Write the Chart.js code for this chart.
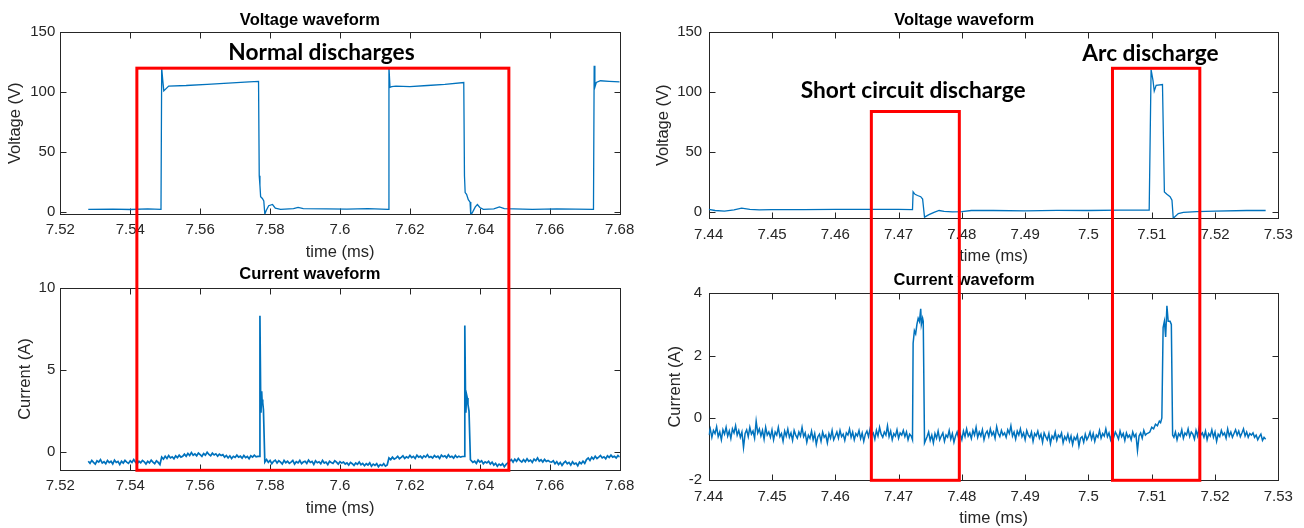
<!DOCTYPE html>
<html>
<head>
<meta charset="utf-8">
<script src="https://cdn.jsdelivr.net/npm/chart.js@4.4.1/dist/chart.umd.min.js"></script>
<style>
  body { margin: 0; background: #fff; }
  .panel { position: absolute; }
  #overlay { position: absolute; left: 0; top: 0; pointer-events: none; }
</style>
</head>
<body>
<canvas id="lt" class="panel" width="650" height="266" style="left:0;top:0"></canvas>
<canvas id="lb" class="panel" width="650" height="266" style="left:0;top:262px"></canvas>
<canvas id="rt" class="panel" width="654" height="266" style="left:650px;top:0"></canvas>
<canvas id="rb" class="panel" width="654" height="266" style="left:650px;top:262px"></canvas>
<canvas id="overlay" width="1304" height="528"></canvas>
<script>
// axis ticks
const leftTimeTicks = [7.52, 7.54, 7.56, 7.58, 7.60, 7.62, 7.64, 7.66, 7.68];
const rightTimeTicks = [7.44, 7.45, 7.46, 7.47, 7.48, 7.49, 7.50, 7.51, 7.52, 7.53];
const voltTicks = [0, 50, 100, 150];
const leftCurTicks = [0, 5, 10];
const rightCurTicks = [-2, 0, 2, 4];

// left voltage trace (ms, V)
const leftVoltT = [
  7.528, 7.535, 7.540, 7.545, 7.5488, 7.5490, 7.5493, 7.5496, 7.5510, 7.5560,
  7.5620, 7.5680, 7.5740, 7.5767, 7.5769, 7.5771, 7.5773, 7.5778, 7.5782, 7.5785,
  7.5789, 7.5796, 7.5807, 7.5815, 7.5830, 7.5867, 7.5880, 7.5895, 7.5960, 7.6020,
  7.6080, 7.6138, 7.6140, 7.6143, 7.6148, 7.6160, 7.6200, 7.6250, 7.6300, 7.6354,
  7.6356, 7.6358, 7.6362, 7.6367, 7.6372, 7.6374, 7.6380, 7.6387, 7.6393, 7.6400,
  7.6410, 7.6440, 7.6456, 7.6470, 7.6550, 7.6620, 7.6725, 7.6727, 7.6729, 7.6733,
  7.6745, 7.6770, 7.6800
];
const leftVolt = [
  2, 2.2, 1.8, 2.3, 2, 120, 110, 101, 105, 105.5,
  106.5, 107.5, 108.5, 109, 30, 22, 12.5, 11, 9, -2,
  1, 5, 6, 3, 2, 2.5, 3.5, 2.6, 2.4, 2.2,
  2.5, 2, 121, 104, 104.5, 105, 104.5, 105.5, 106.5, 108,
  30, 16, 14.5, 10, 8, -3, 0, 4, 6, 3.5,
  2, 2.4, 4, 2.6, 2, 2.3, 2, 122, 104, 108,
  109.5, 109, 108.5
];

// left current: sampled stretches (0.5 us step) plus the two discharge spikes
const leftCurStep = 0.0005;
const leftCurStarts = [7.528, 7.579, 7.6375];
const leftCurA = [
  -0.55, -0.68, -0.5, -0.62, -0.72, -0.52, -0.6, -0.45, -0.66, -0.58,
  -0.7, -0.5, -0.63, -0.55, -0.72, -0.48, -0.62, -0.56, -0.75, -0.55,
  -0.66, -0.5, -0.6, -0.68, -0.52, -0.62, -0.45, -0.6, -0.7, -0.55,
  -0.64, -0.5, -0.58, -0.72, -0.55, -0.65, -0.48, -0.6, -0.7, -0.52,
  -0.62, -0.75,
  -0.3, -0.42, -0.25, -0.38, -0.2, -0.35, -0.28, -0.4, -0.22, -0.33, -0.18, -0.3, -0.25,
  -0.12, -0.25, -0.08, -0.2, -0.02, -0.18, -0.1, -0.22, -0.05, -0.15, -0.25, -0.08,
  -0.18, 0.0, -0.14, -0.22, -0.06, -0.17, -0.1, -0.24, -0.12, -0.2,
  -0.15, -0.3, -0.2, -0.35, -0.22, -0.38, -0.25, -0.32, -0.18, -0.3,
  -0.24, -0.36, -0.2, -0.33, -0.26, -0.4, -0.22, -0.3, -0.18, -0.28, -0.25
];
const leftCurB = [
  -0.45, -0.62, -0.5, -0.7, -0.55, -0.48, -0.66, -0.52, -0.6, -0.72,
  -0.5, -0.64, -0.55, -0.68, -0.6, -0.5, -0.72, -0.58, -0.65, -0.5,
  -0.7, -0.6, -0.55, -0.68, -0.48, -0.62, -0.56, -0.74, -0.52, -0.64,
  -0.58, -0.7, -0.5, -0.66, -0.6, -0.75, -0.55, -0.62, -0.68, -0.52,
  -0.6, -0.72, -0.58, -0.66,
  -0.6, -0.72, -0.65, -0.78, -0.62, -0.7, -0.8, -0.66, -0.74, -0.6,
  -0.76, -0.68, -0.82, -0.7, -0.78, -0.65, -0.85, -0.72, -0.8, -0.7,
  -0.88, -0.75, -0.82, -0.7, -0.85, -0.78,
  -0.35, -0.45, -0.3, -0.42, -0.36, -0.25, -0.4, -0.32, -0.22, -0.38,
  -0.28, -0.35, -0.2, -0.33, -0.25, -0.38, -0.18, -0.3, -0.24, -0.36,
  -0.22, -0.3, -0.15, -0.32, -0.26, -0.35, -0.2, -0.3, -0.24, -0.38,
  -0.18, -0.28, -0.22, -0.34, -0.16, -0.3, -0.25, -0.36, -0.2, -0.32,
  -0.24, -0.3, -0.26
];
const leftCurC = [
  -0.5, -0.62, -0.55, -0.68, -0.48, -0.6, -0.52, -0.7, -0.58, -0.65, -0.55, -0.72, -0.6,
  -0.78, -0.68, -0.85, -0.72, -0.8, -0.7, -0.88, -0.74, -0.65,
  -0.55, -0.45, -0.6, -0.42, -0.55, -0.38, -0.52, -0.6, -0.45, -0.58,
  -0.4, -0.55, -0.48, -0.62, -0.42, -0.52, -0.35, -0.55, -0.46, -0.6, -0.44, -0.56, -0.5, -0.58,
  -0.6, -0.52, -0.7, -0.58, -0.75, -0.62, -0.8, -0.65, -0.55, -0.7,
  -0.62, -0.78, -0.58, -0.72, -0.66, -0.82, -0.6, -0.7, -0.55, -0.68,
  -0.45, -0.35, -0.5, -0.3, -0.42, -0.25, -0.38, -0.3, -0.2, -0.35,
  -0.28, -0.4, -0.22, -0.32, -0.18, -0.3, -0.25, -0.35, -0.2, -0.3
];
const leftSpike1T = [7.5769, 7.5771, 7.5773, 7.5774, 7.5776, 7.5777, 7.5779, 7.5781, 7.5785];
const leftSpike1I = [-0.25, 8.3, 3.6, 2.4, 3.7, 3.2, 3.0, 2.6, -0.6];
const leftSpike2T = [7.6356, 7.6357, 7.6359, 7.6360, 7.6362, 7.6364, 7.6366, 7.6369, 7.6373];
const leftSpike2I = [-0.25, 7.7, 3.4, 2.4, 3.5, 3.3, 2.9, 2.5, -0.45];

// right voltage trace (ms, V)
const rightVoltT = [
  7.4400, 7.4410, 7.4425, 7.4440, 7.4452, 7.4465, 7.4480, 7.4500, 7.4550, 7.4600,
  7.4650, 7.4700, 7.4722, 7.4723, 7.4726, 7.4730, 7.4735, 7.4738, 7.4741, 7.4748,
  7.4756, 7.4764, 7.4772, 7.4785, 7.4800, 7.4815, 7.4850, 7.4900, 7.4950, 7.5000,
  7.5050, 7.5096, 7.5099, 7.5102, 7.5104, 7.5107, 7.5117, 7.5120, 7.5124, 7.5129,
  7.5132, 7.5134, 7.5142, 7.5150, 7.5171, 7.5200, 7.5250, 7.5280
];
const rightVolt = [
  2.5, 1.5, 1, 2, 3.5, 2.5, 2, 2.3, 2.2, 2.5,
  2.4, 2.5, 2.3, 17, 15, 14, 13, 11, -4, -2,
  0, 1.5, 0.8, 0.3, 0.5, 1.5, 1.5, 1.2, 1.6, 1.5,
  1.8, 1.8, 119, 110, 101, 105.8, 106.5, 17, 15, 13,
  10, -5, -1, 0, 0.5, 1, 1.5, 1.5
];

// right current: sampled stretches (0.25 us step) plus short-circuit and arc spikes
const rightCurStep = 0.00025;
const rightCurStarts = [7.4400, 7.4745, 7.5135];
const rightCurA = [
  -0.55, -0.35, -0.62, -0.4, -0.5, -0.28, -0.6, -0.45, -0.7, -0.38,
  -0.52, -0.3, -0.58, -0.42, -0.66, -0.35, -0.48, -0.25, -0.55, -0.4,
  -0.62, -0.45, -0.95, -0.5, -0.38, -0.6, -0.3, -0.52, -0.42, -0.65,
  -0.1, -0.48, -0.35, -0.58, -0.4, -0.68, -0.3, -0.55, -0.45, -0.62,
  -0.38, -0.7, -0.45, -0.55, -0.3, -0.6, -0.5, -0.75, -0.42, -0.58,
  -0.35, -0.62, -0.48, -0.72, -0.4, -0.55, -0.65, -0.45, -0.58, -0.3,
  -0.6, -0.48, -0.78, -0.55, -0.65, -0.42, -0.7, -0.5, -0.85, -0.6,
  -0.52, -0.75, -0.45, -0.62, -0.55, -0.8, -0.5, -0.65, -0.4, -0.7,
  -0.58, -0.45, -0.65, -0.4, -0.6, -0.52, -0.72, -0.48, -0.55, -0.35,
  -0.62, -0.45, -0.7, -0.5, -0.58, -0.4, -0.66, -0.48, -0.75, -0.52,
  -0.42, -0.6, -0.35, -0.55, -0.48, -0.68, -0.4, -0.58, -0.3, -0.52,
  -0.62, -0.45, -0.55, -0.25, -0.6, -0.42, -0.7, -0.5, -0.58, -0.38,
  -0.65, -0.48, -0.55, -0.4, -0.6, -0.45, -0.7, -0.52, -0.58
];
const rightCurB = [
  -0.6, -0.45, -0.72, -0.55, -0.8, -0.5, -0.65, -0.42, -0.7, -0.58,
  -0.48, -0.75, -0.55, -0.62, -0.4, -0.68, -0.5, -0.78, -0.58, -0.45,
  -0.65, -0.52, -0.7, -0.42, -0.6, -0.35, -0.58, -0.48, -0.66, -0.4,
  -0.55, -0.3, -0.62, -0.45, -0.58, -0.38, -0.7, -0.5, -0.42, -0.6,
  -0.35, -0.55, -0.45, -0.65, -0.28, -0.5, -0.6, -0.4, -0.55, -0.48,
  -0.62, -0.38, -0.5, -0.25, -0.58, -0.45, -0.68, -0.42, -0.55, -0.35,
  -0.6, -0.48, -0.7, -0.4, -0.55, -0.62, -0.45, -0.75, -0.5, -0.58,
  -0.42, -0.65, -0.52, -0.78, -0.48, -0.6, -0.7, -0.5, -0.82, -0.58,
  -0.66, -0.45, -0.72, -0.55, -0.62, -0.48, -0.8, -0.6, -0.7, -0.52,
  -0.75, -0.58, -0.85, -0.62, -0.7, -0.55, -0.9, -0.65, -0.6, -0.78,
  -0.52, -0.7, -0.6, -0.45, -0.68, -0.5, -0.75, -0.55, -0.62, -0.4,
  -0.65, -0.5, -0.58, -0.35, -0.6, -0.48, -0.7, -0.52, -0.62, -0.45,
  -0.55, -0.68, -0.42, -0.6, -0.5, -0.72, -0.48, -0.62, -0.55, -0.7,
  -0.45, -0.6, -0.52, -1.05, -0.58, -0.48, -0.65, -0.4, -0.55, -0.5,
  -0.48
];
const rightCurC = [
  -0.62, -0.45, -0.7, -0.5, -0.58, -0.38, -0.65, -0.48, -0.55, -0.35,
  -0.6, -0.45, -0.52, -0.68, -0.4, -0.58, -0.3, -0.55, -0.48, -0.62,
  -0.42, -0.7, -0.5, -0.58, -0.38, -0.62, -0.45, -0.75, -0.52, -0.6,
  -0.4, -0.55, -0.48, -0.65, -0.35, -0.58, -0.45, -0.62, -0.5, -0.38,
  -0.55, -0.42, -0.6, -0.48, -0.35, -0.58, -0.45, -0.62, -0.5, -0.55,
  -0.48, -0.62, -0.55, -0.7, -0.6, -0.52, -0.72, -0.62, -0.68
];
const shortSpikeT = [7.4722, 7.4723, 7.4725, 7.4727, 7.4729, 7.4731, 7.4733, 7.4735, 7.4736, 7.4738, 7.4739, 7.4741];
const shortSpikeI = [-0.7, 2.4, 2.8, 2.7, 3.0, 3.2, 3.1, 3.5, 3.0, 3.2, 3.1, -0.8];
const arcSpikeT = [7.5097, 7.5100, 7.5103, 7.5106, 7.5109, 7.5112, 7.5114, 7.5116, 7.5118, 7.5120, 7.5122, 7.5124, 7.5126, 7.5129, 7.5131, 7.5133];
const arcSpikeI = [-0.45, -0.3, -0.35, -0.2, -0.25, -0.1, -0.15, 0.0, 2.9, 3.1, 2.6, 3.6, 3.1, 3.1, 3.0, -0.55];

// highlighted discharge windows
const boxLabels = ['Normal discharges', 'Short circuit discharge', 'Arc discharge'];
const boxPanel = ['left', 'right', 'right'];
const boxFrom = [7.5419, 7.4657, 7.5038];
const boxTo = [7.6483, 7.4796, 7.5176];
const boxTopVolt = [120, 84, 120];
const labelTime = [7.5947, 7.4723, 7.5098];
const labelVolt = [126.5, 95, 126.5];

const FONT = '"Liberation Sans", Arial, sans-serif';
const TXT = '#262626';

function pairs(ts, vs) {
  return ts.map((t, i) => ({ x: t, y: vs[i] }));
}
function sampled(t0, dt, vs) {
  return vs.map((v, i) => ({ x: t0 + i * dt, y: v }));
}
function fmt(v) {
  return String(Number(v.toFixed(2)));
}

// MATLAB style box with inward ticks on all four sides
const boxPlugin = {
  id: 'axesBox',
  beforeDatasetsDraw(chart) {
    const { ctx, chartArea: a, scales: { x, y } } = chart;
    const L = Math.round(a.left) + 0.5, R = Math.round(a.right) + 0.5;
    const T = Math.round(a.top) + 0.5, B = Math.round(a.bottom) + 0.5;
    ctx.save();
    ctx.strokeStyle = TXT;
    ctx.lineWidth = 1;
    ctx.strokeRect(L, T, R - L, B - T);
    ctx.beginPath();
    x.ticks.forEach(t => {
      const px = Math.round(x.getPixelForValue(t.value)) + 0.5;
      ctx.moveTo(px, B); ctx.lineTo(px, B - 6);
      ctx.moveTo(px, T); ctx.lineTo(px, T + 6);
    });
    y.ticks.forEach(t => {
      const py = Math.round(y.getPixelForValue(t.value)) + 0.5;
      ctx.moveTo(L, py); ctx.lineTo(L + 6, py);
      ctx.moveTo(R, py); ctx.lineTo(R - 6, py);
    });
    ctx.stroke();
    ctx.restore();
  }
};

function waveChart(id, c) {
  return new Chart(document.getElementById(id), {
    type: 'line',
    data: {
      datasets: [{
        data: c.points,
        borderColor: '#0072bd',
        borderWidth: c.lineWidth,
        pointRadius: 0,
        tension: 0
      }]
    },
    options: {
      responsive: false,
      animation: false,
      events: [],
      layout: { padding: { left: 0, right: c.padRight, top: 0, bottom: 0 } },
      plugins: {
        legend: { display: false },
        tooltip: { enabled: false },
        title: {
          display: true,
          text: c.title,
          color: '#000',
          font: { family: FONT, size: 16.5, weight: 'bold' },
          padding: { top: c.titleTop, bottom: c.titleBottom }
        }
      },
      scales: {
        x: {
          type: 'linear',
          min: c.xTicks[0],
          max: c.xTicks[c.xTicks.length - 1],
          grid: { display: false, drawTicks: false },
          border: { display: false },
          ticks: {
            color: TXT, font: { family: FONT, size: 15 }, padding: c.xTickPad,
            maxRotation: 0, autoSkip: false, callback: v => fmt(v)
          },
          afterBuildTicks: s => { s.ticks = c.xTicks.map(v => ({ value: v })); },
          afterFit: s => { s.height = c.xHeight; s.paddingLeft = 0; s.paddingRight = 0; },
          title: {
            display: true, text: 'time (ms)', color: TXT,
            font: { family: FONT, size: 16.5 }, padding: { top: 0, bottom: c.xTitlePad }
          }
        },
        y: {
          min: c.yMin,
          max: c.yTicks[c.yTicks.length - 1],
          grid: { display: false, drawTicks: false },
          border: { display: false },
          ticks: {
            color: TXT, font: { family: FONT, size: 15 }, padding: c.yTickPad,
            autoSkip: false, callback: v => fmt(v)
          },
          afterBuildTicks: s => { s.ticks = c.yTicks.map(v => ({ value: v })); },
          afterFit: s => { s.width = c.yWidth; s.paddingTop = 0; s.paddingBottom = 0; },
          title: {
            display: true, text: c.yTitle, color: TXT,
            font: { family: FONT, size: 16.5 }, padding: { top: c.yTitlePad, bottom: 0 }
          }
        }
      }
    },
    plugins: [boxPlugin]
  });
}

const leftCurPoints = [
  ...sampled(leftCurStarts[0], leftCurStep, leftCurA),
  ...pairs(leftSpike1T, leftSpike1I),
  ...sampled(leftCurStarts[1], leftCurStep, leftCurB),
  ...pairs(leftSpike2T, leftSpike2I),
  ...sampled(leftCurStarts[2], leftCurStep, leftCurC)
];
const rightCurPoints = [
  ...sampled(rightCurStarts[0], rightCurStep, rightCurA),
  ...pairs(shortSpikeT, shortSpikeI),
  ...sampled(rightCurStarts[1], rightCurStep, rightCurB),
  ...pairs(arcSpikeT, arcSpikeI),
  ...sampled(rightCurStarts[2], rightCurStep, rightCurC)
];

const ltChart = waveChart('lt', {
  points: pairs(leftVoltT, leftVolt), title: 'Voltage waveform', yTitle: 'Voltage (V)',
  xTicks: leftTimeTicks, yTicks: voltTicks, yMin: -2.2, lineWidth: 1.3,
  padRight: 30.3, titleTop: 10.1, titleBottom: 2.4, xHeight: 51.7, yWidth: 60.3,
  xTickPad: 7, yTickPad: 5, xTitlePad: 3.6, yTitlePad: 5.1
});
const lbChart = waveChart('lb', {
  points: leftCurPoints, title: 'Current waveform', yTitle: 'Current (A)',
  xTicks: leftTimeTicks, yTicks: leftCurTicks, yMin: -1.1, lineWidth: 1.7,
  padRight: 30.3, titleTop: 2.1, titleBottom: 3.8, xHeight: 57.7, yWidth: 60.3,
  xTickPad: 6.5, yTickPad: 5, xTitlePad: 10.1, yTitlePad: 15.1
});
const rtChart = waveChart('rt', {
  points: pairs(rightVoltT, rightVolt), title: 'Voltage waveform', yTitle: 'Voltage (V)',
  xTicks: rightTimeTicks, yTicks: voltTicks, yMin: -5, lineWidth: 1.3,
  padRight: 25.7, titleTop: 10.1, titleBottom: 2.4, xHeight: 47.7, yWidth: 58.7,
  xTickPad: 8, yTickPad: 6.5, xTitlePad: 0.1, yTitlePad: 3.5
});
const rbChart = waveChart('rb', {
  points: rightCurPoints, title: 'Current waveform', yTitle: 'Current (A)',
  xTicks: rightTimeTicks, yTicks: rightCurTicks, yMin: -2, lineWidth: 1.5,
  padRight: 25.7, titleTop: 8.8, titleBottom: 2.7, xHeight: 47.7, yWidth: 58.7,
  xTickPad: 7.5, yTickPad: 6.5, xTitlePad: 0.1, yTitlePad: 15.1
});

// red windows spanning voltage and current panels, with bold captions
function drawWindows() {
  const ctx = document.getElementById('overlay').getContext('2d');
  boxLabels.forEach((label, i) => {
    const [vc, cc] = boxPanel[i] === 'left' ? [ltChart, lbChart] : [rtChart, rbChart];
    const ox = vc.canvas.offsetLeft;
    const x0 = ox + vc.scales.x.getPixelForValue(boxFrom[i]);
    const x1 = ox + vc.scales.x.getPixelForValue(boxTo[i]);
    const y0 = vc.canvas.offsetTop + vc.scales.y.getPixelForValue(boxTopVolt[i]);
    const y1 = cc.canvas.offsetTop + cc.scales.y.getPixelForValue(cc.scales.y.min);
    ctx.strokeStyle = '#ff0000';
    ctx.lineWidth = 3;
    ctx.strokeRect(x0, y0, x1 - x0, y1 - y0);

    ctx.fillStyle = '#000';
    ctx.font = 'bold 22.7px Lato, "Liberation Sans", sans-serif';
    ctx.textAlign = 'center';
    ctx.textBaseline = 'alphabetic';
    ctx.fillText(label, ox + vc.scales.x.getPixelForValue(labelTime[i]),
      vc.canvas.offsetTop + vc.scales.y.getPixelForValue(labelVolt[i]));
  });
}
drawWindows();
</script>
</body>
</html>
